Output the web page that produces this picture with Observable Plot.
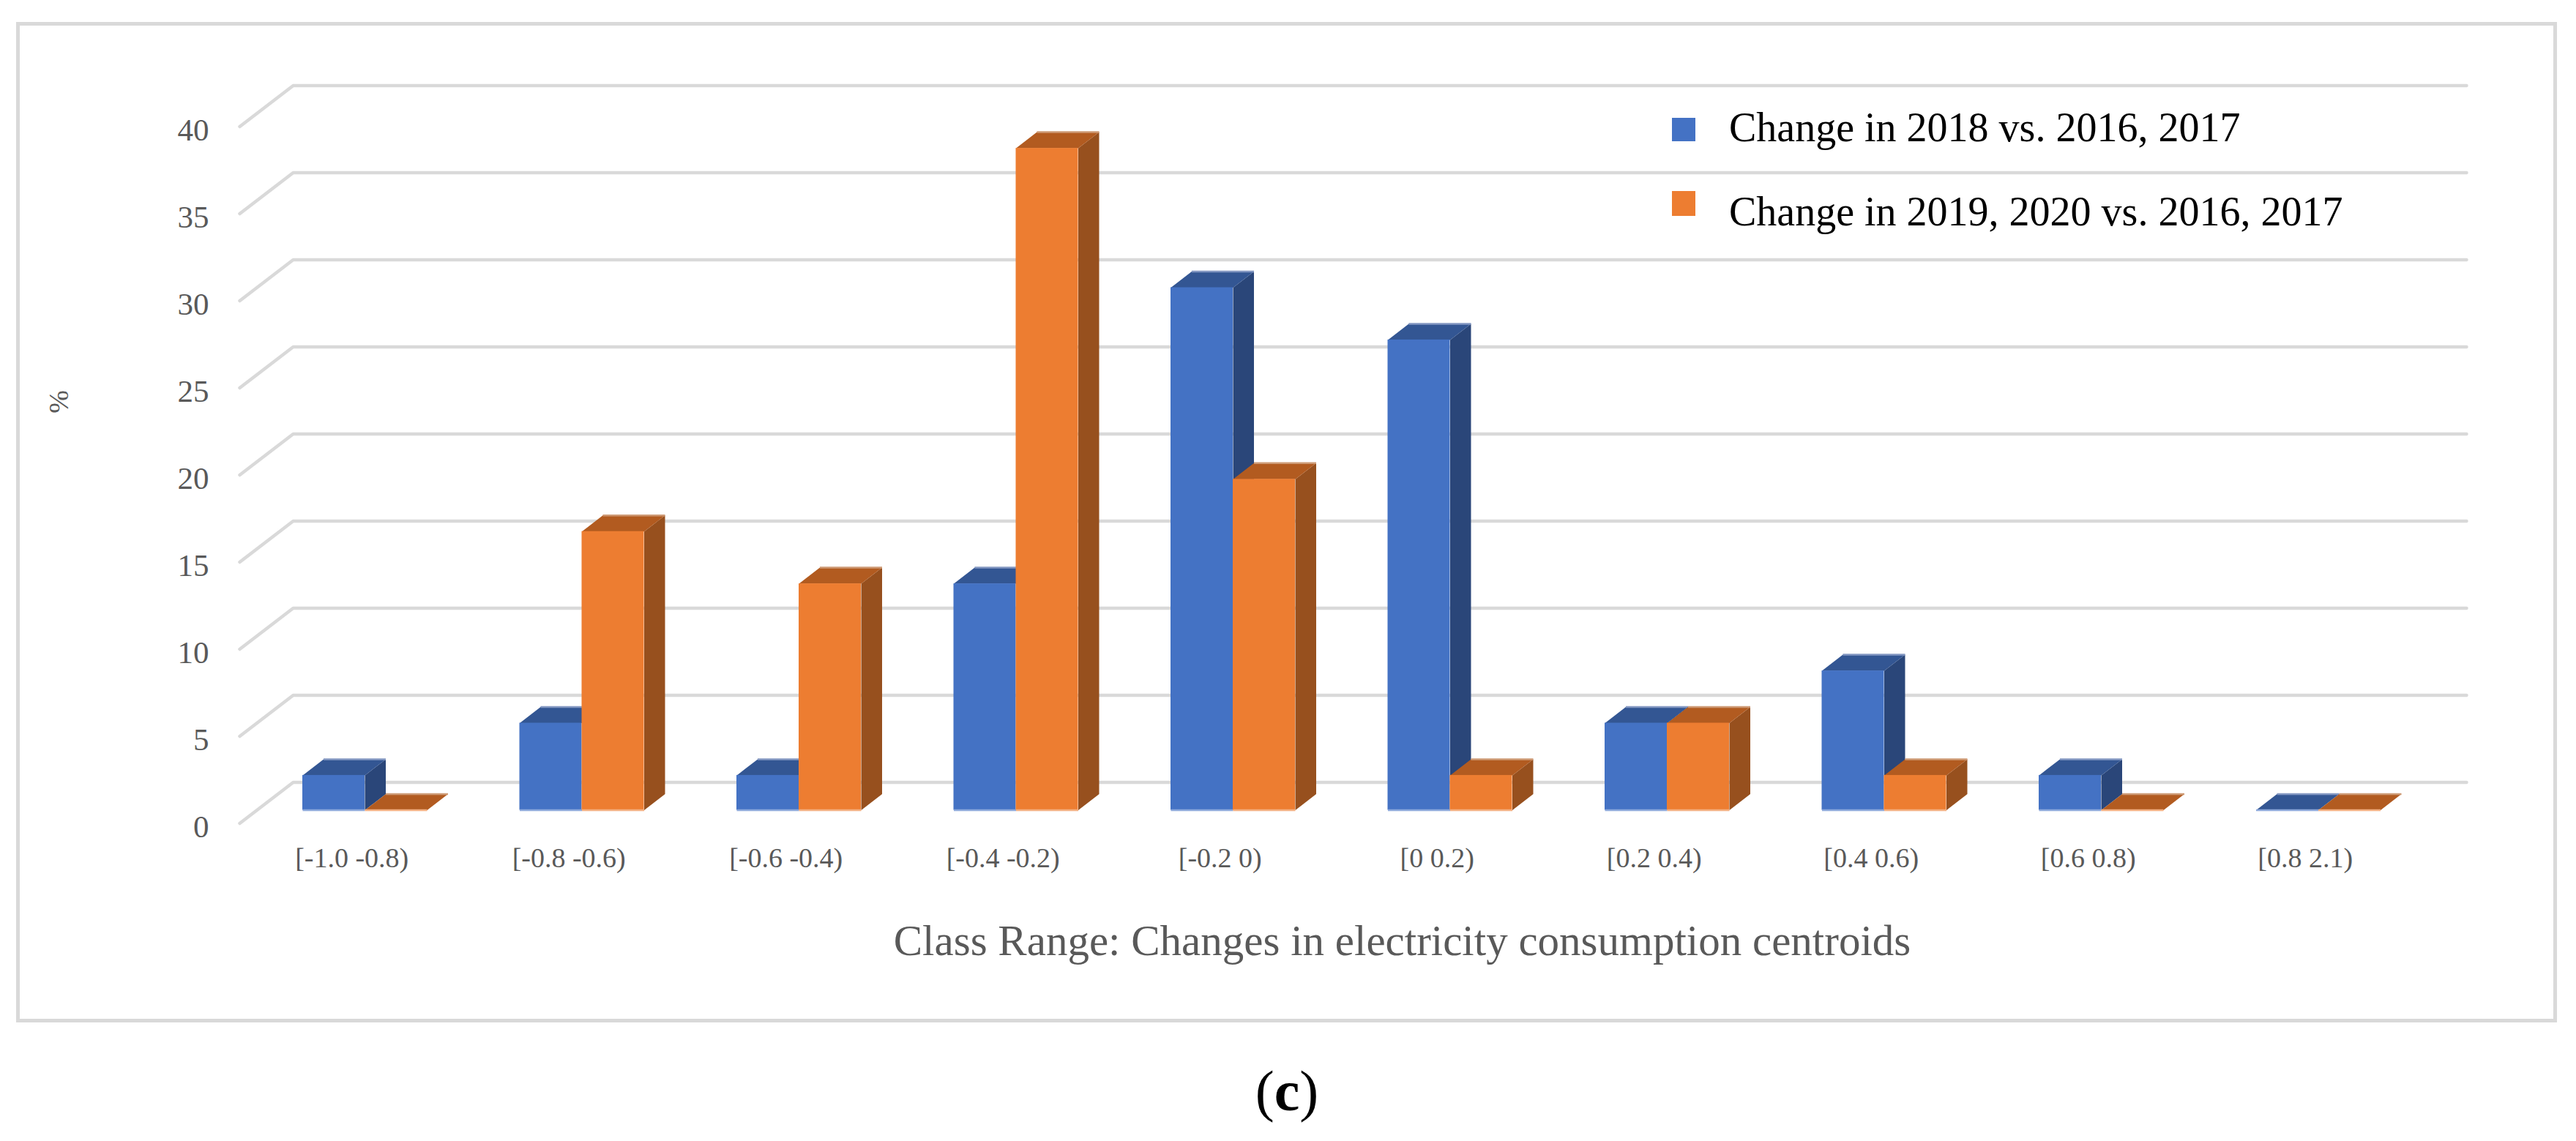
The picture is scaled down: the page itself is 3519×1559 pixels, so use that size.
<!DOCTYPE html>
<html>
<head>
<meta charset="utf-8">
<script src="https://cdn.jsdelivr.net/npm/d3@7"></script>
<script src="https://cdn.jsdelivr.net/npm/@observablehq/plot@0.6"></script>
<style>
html,body{margin:0;padding:0;background:#fff;overflow:hidden}
#page{position:relative;width:3519px;height:1559px;font-family:"Liberation Serif",serif}
#page svg{position:absolute;left:0;top:0;background:transparent}
#frame{position:absolute;left:22px;top:30px;width:3471px;height:1367px;box-sizing:border-box;border:5px solid #D9D9D9}
.sw{position:absolute;left:2284px;width:32px}
.lg{position:absolute;left:2362px;font-size:56px;line-height:56px;color:#000;white-space:nowrap}
#cap{position:absolute;left:1658px;width:200px;text-align:center;top:1452px;font-size:78px;line-height:78px;color:#000}
#cap b{font-weight:bold}
</style>
</head>
<body>
<div id="page">
  <div id="frame"></div>
  <div id="chart"></div>
  <div class="sw" style="top:161px;height:32px;background:#4472C4"></div>
  <div class="sw" style="top:261px;height:34px;background:#ED7D31"></div>
  <div class="lg" id="lg0" style="top:146px"></div>
  <div class="lg" id="lg1" style="top:261px"></div>
  <div id="cap">(<b>c</b>)</div>
</div>
<script>
const categories = ["[-1.0 -0.8)","[-0.8 -0.6)","[-0.6 -0.4)","[-0.4 -0.2)","[-0.2 0)","[0 0.2)","[0.2 0.4)","[0.4 0.6)","[0.6 0.8)","[0.8 2.1)"];
const blueValues = [2,5,2,13,30,27,5,8,2,0];
const orangeValues = [0,16,13,38,19,2,5,2,0,0];
const yTicks = [0,5,10,15,20,25,30,35,40];
const seriesNames = ["Change in 2018 vs. 2016, 2017","Change in 2019, 2020 vs. 2016, 2017"];
const xTitle = "Class Range: Changes in electricity consumption centroids";
const yTitle = "%";

document.getElementById("lg0").textContent = seriesNames[0];
document.getElementById("lg1").textContent = seriesNames[1];

// projection constants, in data units
const BW = 85/296.5, DX = 28.5/296.5, DY = 22/23.8;
const labelOffset = 0.2267;

function faces(values, slot){
  const tops = [], sides = [], fronts = [], backEdges = [], baseEdges = [];
  values.forEach((v,i)=>{
    const a = i + slot*BW, b = a + BW;
    fronts.push({x1:a,x2:b,y1:0,y2:v});
    [[a,v],[b,v],[b+DX,v+DY],[a+DX,v+DY]].forEach(([x,y])=>tops.push({x,y,k:i}));
    [[b,0],[b+DX,DY],[b+DX,v+DY],[b,v]].forEach(([x,y])=>sides.push({x,y,k:i}));
    backEdges.push({x1:a+DX,x2:b+DX,y:v+DY});
    baseEdges.push({x1:a,x2:b,y:0});
  });
  return {tops,sides,fronts,backEdges,baseEdges};
}
const series = [
  {f:faces(blueValues,0), front:"#4472C4", top:"#335693", side:"#2A4679", backEdge:"#8498C2", baseEdge:"#8FAADC"},
  {f:faces(orangeValues,1), front:"#ED7D31", top:"#B25B20", side:"#97501E", backEdge:"#CE9A75", baseEdge:"#F4B183"}
];

const grid = [];
yTicks.forEach(v=>{
  grid.push({x:-86/296.5,y:v-18/23.8,k:v},{x:-13/296.5,y:v+38/23.8,k:v},{x:2956/296.5,y:v+38/23.8,k:v});
});

const marks = [
  Plot.line(grid,{x:"x",y:"y",z:"k",stroke:"#D9D9D9",strokeWidth:4.5,strokeLinejoin:"miter"})
];
series.forEach(s=>{
  marks.push(Plot.line(s.f.sides,{x:"x",y:"y",z:"k",fill:s.side,stroke:"none"}));
  marks.push(Plot.line(s.f.tops,{x:"x",y:"y",z:"k",fill:s.top,stroke:"none"}));
  marks.push(Plot.rect(s.f.fronts,{x1:"x1",x2:"x2",y1:"y1",y2:"y2",fill:s.front,inset:0}));
  marks.push(Plot.link(s.f.backEdges,{x1:"x1",x2:"x2",y1:"y",y2:"y",stroke:s.backEdge,strokeWidth:2.5}));
  marks.push(Plot.link(s.f.baseEdges,{x1:"x1",x2:"x2",y1:"y",y2:"y",stroke:s.baseEdge,strokeWidth:2.5}));
});
marks.push(
  Plot.axisY({ticks:yTicks,tickSize:0,tickPadding:0,dy:23,label:null,fontSize:43,fill:"#595959"}),
  Plot.axisX({ticks:categories.map((_,i)=>i+labelOffset),tickFormat:v=>categories[Math.round(v-labelOffset)],tickSize:0,tickPadding:52,label:null,fontSize:38,fill:"#595959"}),
  Plot.text([xTitle],{x:()=>1502/296.5,y:()=>-179/23.8,text:d=>d,fontSize:59,fill:"#595959",textAnchor:"middle"}),
  Plot.text([yTitle],{x:()=>-333/296.5,y:()=>558/23.8,text:d=>d,fontSize:38,fill:"#595959",rotate:-90})
);

const chart = Plot.plot({
  width:3519,height:1559,
  marginLeft:285,marginBottom:453,marginTop:0,marginRight:0,
  style:{fontFamily:"'Liberation Serif',serif",background:"transparent"},
  x:{type:"linear",domain:[0,10],range:[413,3378],axis:null},
  y:{type:"linear",domain:[0,40],range:[1106.5,154.5],axis:null},
  marks
});
document.getElementById("chart").appendChild(chart);
</script>
</body>
</html>
